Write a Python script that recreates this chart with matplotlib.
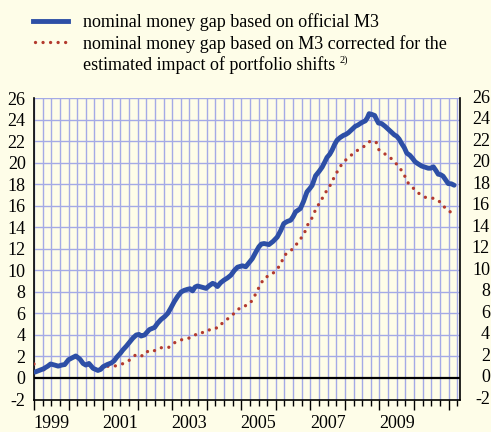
import matplotlib
matplotlib.use("Agg")
import matplotlib.pyplot as plt
from matplotlib.lines import Line2D
from matplotlib.transforms import blended_transform_factory
import numpy as np

# ---- data ----
blue_t = [1999.03, 1999.15, 1999.27, 1999.40, 1999.48, 1999.60, 1999.70, 1999.80, 1999.89,
          2000.00, 2000.12, 2000.21, 2000.33, 2000.42, 2000.50, 2000.59, 2000.71, 2000.85, 2000.93,
          2001.00, 2001.12, 2001.24, 2001.32, 2001.40, 2001.50, 2001.57, 2001.67, 2001.77, 2001.86, 2001.96,
          2002.04, 2002.10, 2002.20, 2002.34, 2002.49, 2002.58, 2002.68, 2002.78, 2002.87, 2002.96,
          2003.06, 2003.16, 2003.26, 2003.35, 2003.45, 2003.52, 2003.59, 2003.66, 2003.73, 2003.85, 2003.98,
          2004.08, 2004.17, 2004.24, 2004.31, 2004.40, 2004.50, 2004.60, 2004.70, 2004.80, 2004.89,
          2005.03, 2005.13, 2005.22, 2005.32, 2005.42, 2005.51, 2005.58, 2005.66, 2005.80, 2005.92,
          2006.04, 2006.14, 2006.23, 2006.33, 2006.43, 2006.50, 2006.57, 2006.71, 2006.80, 2006.90, 2006.98,
          2007.05, 2007.15, 2007.25, 2007.34, 2007.42, 2007.48, 2007.56, 2007.63, 2007.70, 2007.77, 2007.86, 2007.96,
          2008.03, 2008.10, 2008.20, 2008.30, 2008.37, 2008.44, 2008.52, 2008.59, 2008.65, 2008.70, 2008.78, 2008.86, 2008.92, 2008.97,
          2009.06, 2009.16, 2009.26, 2009.36, 2009.43, 2009.50, 2009.57, 2009.64, 2009.72, 2009.79, 2009.88, 2009.96,
          2010.03, 2010.12, 2010.22, 2010.32, 2010.41, 2010.48, 2010.56, 2010.63, 2010.70, 2010.77, 2010.84, 2010.92, 2010.99,
          2011.08, 2011.16]
blue_v = [0.55, 0.7, 0.85, 1.1, 1.3, 1.2, 1.1, 1.2, 1.25,
          1.7, 1.9, 2.05, 1.75, 1.35, 1.2, 1.35, 0.9, 0.7, 0.8,
          1.05, 1.25, 1.4, 1.6, 1.95, 2.3, 2.6, 2.95, 3.35, 3.7, 4.0,
          4.05, 3.9, 4.0, 4.5, 4.7, 5.1, 5.45, 5.7, 6.0, 6.5,
          7.1, 7.6, 8.0, 8.15, 8.25, 8.3, 8.1, 8.45, 8.55, 8.45, 8.33,
          8.6, 8.8, 8.7, 8.5, 8.85, 9.1, 9.3, 9.56, 10.0, 10.3,
          10.43, 10.34, 10.7, 11.1, 11.7, 12.2, 12.45, 12.5, 12.4, 12.7,
          13.1, 13.7, 14.36, 14.55, 14.67, 15.0, 15.44, 15.75, 16.4, 17.3, 17.6,
          17.9, 18.8, 19.2, 19.6, 20.1, 20.5, 20.8, 21.2, 21.7, 22.1, 22.35, 22.56,
          22.65, 22.8, 23.1, 23.4, 23.5, 23.65, 23.8, 23.9, 24.2, 24.57, 24.5, 24.4, 24.0, 23.7,
          23.65, 23.4, 23.1, 22.8, 22.6, 22.47, 22.2, 21.8, 21.4, 20.9, 20.7, 20.4,
          20.1, 19.9, 19.7, 19.6, 19.5, 19.5, 19.63, 19.3, 18.94, 18.9, 18.76, 18.4, 18.07,
          18.05, 17.92]

red_t = [1999.00, 1999.10, 1999.20, 1999.32, 1999.48, 1999.60, 1999.70, 1999.88, 1999.99,
         2000.18, 2000.35, 2000.54, 2000.67, 2000.84, 2001.02, 2001.22, 2001.40, 2001.60, 2001.77, 2001.96,
         2002.16, 2002.32, 2002.52, 2002.69, 2002.90, 2003.07, 2003.22, 2003.39, 2003.60, 2003.75, 2003.96,
         2004.14, 2004.34, 2004.49, 2004.67, 2004.84, 2005.00, 2005.20, 2005.34, 2005.44, 2005.55, 2005.66, 2005.87,
         2006.04, 2006.16, 2006.25, 2006.43, 2006.57, 2006.71, 2006.83, 2006.91, 2007.03, 2007.12, 2007.22,
         2007.34, 2007.45, 2007.57, 2007.68, 2007.78, 2007.94, 2008.11, 2008.28, 2008.45, 2008.63, 2008.73,
         2008.90, 2008.98, 2009.12, 2009.29, 2009.45, 2009.60, 2009.72, 2009.81, 2009.96, 2010.13, 2010.32,
         2010.51, 2010.66, 2010.81, 2010.93, 2011.10]
red_v = [1.3, 0.59, 0.7, 0.8, 1.27, 1.2, 1.15, 1.2, 1.67,
         1.98, 1.6, 1.27, 1.05, 0.68, 1.15, 1.05, 1.15, 1.36, 1.67, 2.2,
         2.04, 2.57, 2.54, 2.82, 2.85, 3.28, 3.53, 3.6, 3.84, 4.2, 4.24,
         4.6, 4.67, 5.26, 5.63, 6.16, 6.63, 6.78, 7.3, 8.0, 8.64, 9.3, 9.6,
         10.1, 10.74, 11.42, 11.82, 12.32, 12.9, 13.5, 14.18, 14.77, 15.44, 16.03,
         16.68, 17.3, 17.9, 18.6, 19.2, 20.04, 20.5, 21.0, 21.33, 21.68, 22.03,
         21.94, 21.23, 20.9, 20.55, 20.05, 19.47, 18.85, 18.2, 17.7, 17.18, 16.8,
         16.74, 16.6, 16.2, 15.66, 15.35]

year_labels = ["1999", "2001", "2003", "2005", "2007", "2009"]
y_ticks = list(range(-2, 27, 2))
legend_labels = ["nominal money gap based on official M3",
                 "nominal money gap based on M3 corrected for the",
                 "estimated impact of portfolio shifts"]

# ---- style ----
BG = "#fefde8"
GRID = "#a4aae6"
BLUE = "#2d4fa6"
RED = "#b33a2e"
plt.rcParams["font.family"] = ["Liberation Serif", "DejaVu Serif"]
FS = 13

W, H = 491, 432
fig = plt.figure(figsize=(W / 100, H / 100), dpi=100, facecolor=BG)
x0, x1, ytop, ybot = 34, 460, 98.3, 399.5
ax = fig.add_axes([x0 / W, 1 - ybot / H, (x1 - x0) / W, (ybot - ytop) / H])
ax.set_facecolor(BG)

ax.set_xlim(1999.0, 2011.33)
ax.set_ylim(-2, 26)

# grid
for q in np.arange(1999.0, 2011.3, 0.25):
    ax.axvline(q, color=GRID, lw=1.0, zorder=1)
for yv in range(2, 27, 2):
    ax.axhline(yv, color=GRID, lw=1.0, zorder=1)
ax.axhline(0, color="black", lw=1.6, zorder=2)

RED_LW = 2.4
RED_LS = (0, (0.01, 2.25))
ax.plot(red_t, red_v, color=RED, lw=RED_LW, linestyle=RED_LS,
        dash_capstyle="round", zorder=3)
ax.plot(blue_t, blue_v, color=BLUE, lw=3.5, solid_capstyle="round",
        solid_joinstyle="round", zorder=4)

# spines
for s in ["left", "right", "bottom"]:
    ax.spines[s].set_color("black")
    ax.spines[s].set_linewidth(1.2)
ax.spines["top"].set_visible(False)

# y ticks: left labels via axis, right labels as text right-aligned at edge
ax.set_yticks(y_ticks)
ax.set_yticklabels([str(v) for v in y_ticks])
ax.tick_params(axis="y", which="both", length=0, labelsize=FS,
               left=False, right=False, labelleft=True, labelright=False, pad=6.0)
transR = blended_transform_factory(fig.transFigure, ax.transData)
for v in y_ticks:
    ax.text(490 / W, v, str(v), transform=transR, ha="right", va="center",
            fontsize=FS, clip_on=False)

# x ticks: years long, quarters short
ax.set_xticks(np.arange(1999, 2012, 1.0))
ax.set_xticks(np.arange(1999, 2011.3, 0.25), minor=True)
ax.tick_params(axis="x", which="major", length=7, width=1.0, direction="out",
               labelbottom=False, color="black")
ax.tick_params(axis="x", which="minor", length=4, width=1.0, direction="out",
               color="black")

trans = blended_transform_factory(ax.transData, ax.transAxes)
for lab in year_labels:
    ax.text(int(lab) + 0.5, -24.5 / (ybot - ytop), lab, transform=trans,
            ha="center", va="center", fontsize=FS, clip_on=False)

# legend
def fx(px):
    return px / W

def fy(py):
    return 1 - py / H

fig.add_artist(Line2D([fx(33), fx(68)], [fy(21), fy(21)], color=BLUE, lw=3.5,
                      transform=fig.transFigure))
fig.add_artist(Line2D([fx(35), fx(68)], [fy(42), fy(42)], color=RED, lw=RED_LW,
                      linestyle=RED_LS, dash_capstyle="round",
                      transform=fig.transFigure))
fig.text(fx(83), fy(27), legend_labels[0], fontsize=FS, va="baseline", ha="left")
fig.text(fx(83), fy(49), legend_labels[1], fontsize=FS, va="baseline", ha="left")
t3 = fig.text(fx(83), fy(70), legend_labels[2], fontsize=FS, va="baseline", ha="left")
fig.canvas.draw()
bb = t3.get_window_extent()
fig.text((bb.x1 + 4) / W, fy(60), "2)", fontsize=7.5, va="center", ha="left")

fig.savefig("out.png", dpi=100, facecolor=BG)
